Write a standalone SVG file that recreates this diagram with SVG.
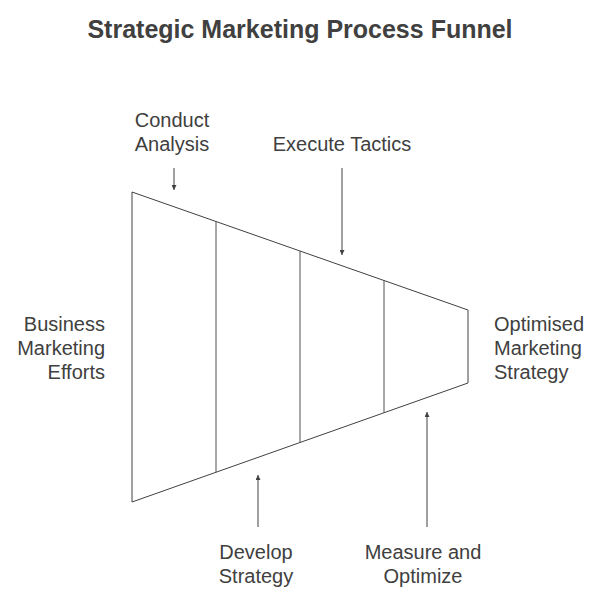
<svg xmlns="http://www.w3.org/2000/svg" width="612" height="600" viewBox="0 0 612 600">
<defs>
<style>
.t{font-family:"Liberation Sans",Arial,sans-serif;font-size:20px;fill:#404040}
.title{font-family:"Liberation Sans",Arial,sans-serif;font-size:25px;font-weight:bold;fill:#404040}
.f{fill:none;stroke:#404040;stroke-width:1}
.d{stroke:#505050;stroke-width:1}
.a{stroke:#808080;stroke-width:1.5;fill:none}
</style>
<marker id="ah" viewBox="0 0 10 10" refX="10" refY="5" markerWidth="5" markerHeight="5" orient="auto" markerUnits="userSpaceOnUse">
<path d="M0,0 L10,5 L0,10 Z" fill="#404040"/>
</marker>
</defs>
<rect width="612" height="600" fill="#ffffff"/>
<text class="title" x="300" y="38" text-anchor="middle">Strategic Marketing Process Funnel</text>
<g id="funnel">
<path class="f" d="M132,192 L468,310 L468,383 L132,502 Z"/>
<line class="d" x1="216" y1="221.5" x2="216" y2="472.3"/>
<line class="d" x1="300" y1="251" x2="300" y2="442.5"/>
<line class="d" x1="384" y1="280.5" x2="384" y2="412.8"/>
</g>
<g id="input">
<text class="t" text-anchor="end" x="105" y="331">Business</text>
<text class="t" text-anchor="end" x="105" y="355">Marketing</text>
<text class="t" text-anchor="end" x="105" y="379">Efforts</text>
</g>
<g id="output">
<text class="t" x="494" y="331">Optimised</text>
<text class="t" x="494" y="355">Marketing</text>
<text class="t" x="494" y="379">Strategy</text>
</g>
<g id="conduct-analysis">
<text class="t" text-anchor="middle" x="172" y="127">Conduct</text>
<text class="t" text-anchor="middle" x="172" y="151">Analysis</text>
</g>
<g id="execute-tactics">
<text class="t" text-anchor="middle" x="342" y="151">Execute Tactics</text>
</g>
<g id="develop-strategy">
<text class="t" text-anchor="middle" x="256" y="559">Develop</text>
<text class="t" text-anchor="middle" x="256" y="583">Strategy</text>
</g>
<g id="measure-optimize">
<text class="t" text-anchor="middle" x="423" y="559">Measure and</text>
<text class="t" text-anchor="middle" x="423" y="583">Optimize</text>
</g>
<g id="connectors">
<line class="a" x1="174" y1="168" x2="174" y2="190" marker-end="url(#ah)"/>
<line class="a" x1="342" y1="168" x2="342" y2="255" marker-end="url(#ah)"/>
<line class="a" x1="258" y1="527" x2="258" y2="475" marker-end="url(#ah)"/>
<line class="a" x1="427" y1="527" x2="427" y2="412" marker-end="url(#ah)"/>
</g>
</svg>
